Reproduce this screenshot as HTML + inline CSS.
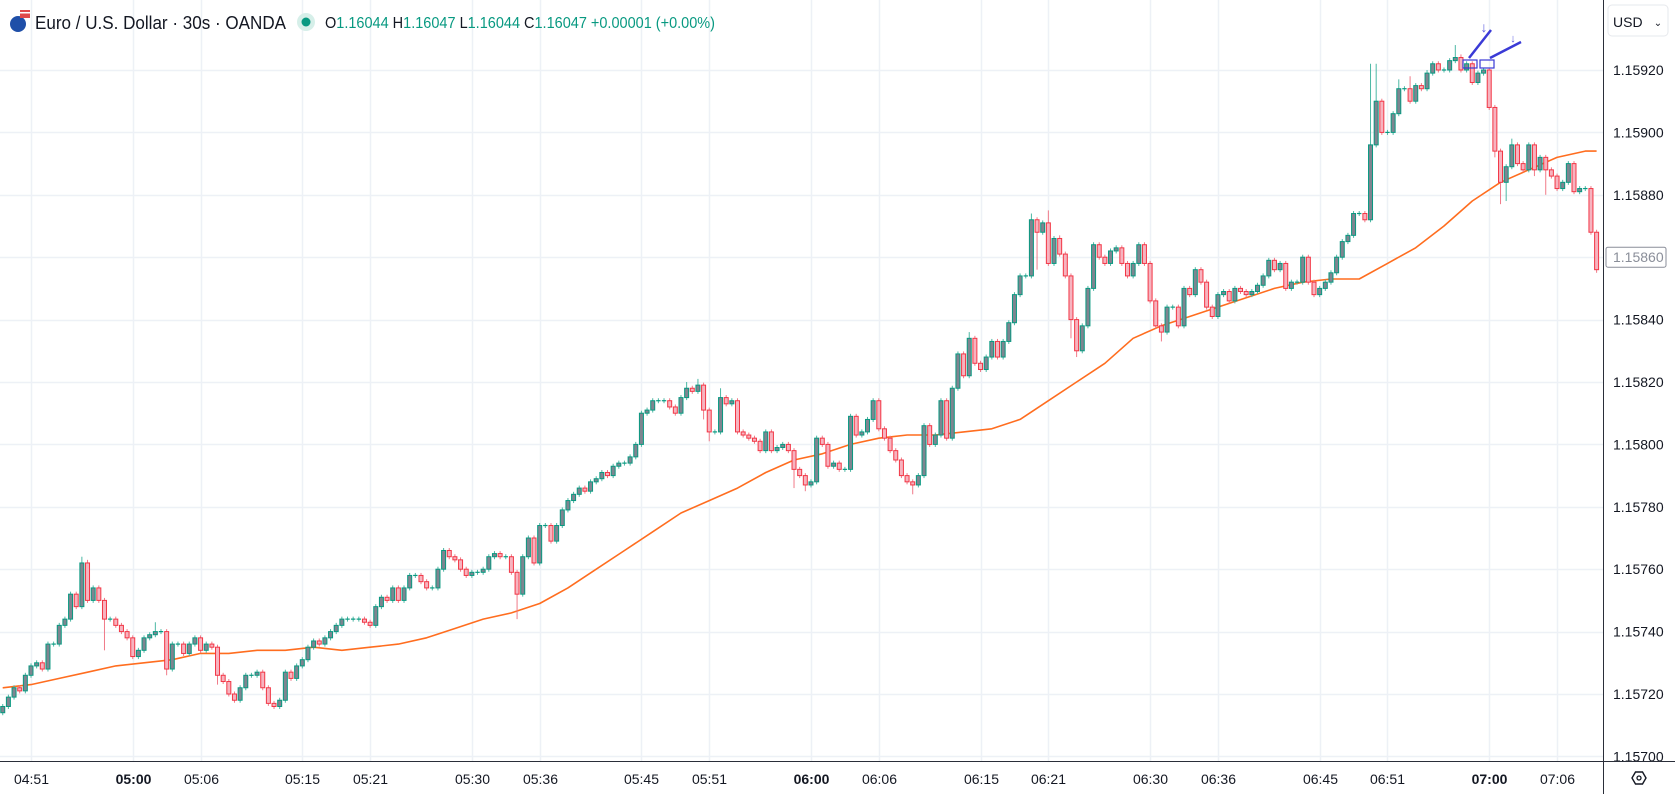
<!DOCTYPE html>
<html><head><meta charset="utf-8"><style>
html,body{margin:0;padding:0;background:#fff;}
body{width:1675px;height:794px;overflow:hidden;font-family:"Liberation Sans",sans-serif;}
svg{display:block}
</style></head><body>
<svg id="chart" width="1675" height="794" xmlns="http://www.w3.org/2000/svg">
<rect x="0" y="0" width="1675" height="794" fill="#fff"/>
<g id="grid"></g>
<g id="ma"></g>
<g id="candles"></g>
<g id="annot">
 <rect x="1463" y="60" width="14" height="8" fill="none" stroke="#3a3ad6" stroke-width="1.2"/>
 <rect x="1480" y="60" width="14" height="8" fill="none" stroke="#3a3ad6" stroke-width="1.2"/>
 <line x1="1469" y1="58" x2="1491" y2="30" stroke="#3a3ad6" stroke-width="2.5"/>
 <line x1="1490" y1="58" x2="1521" y2="42" stroke="#3a3ad6" stroke-width="2.5"/>
 <text x="1484" y="32" font-size="14" fill="#5a5ae0" text-anchor="middle">↓</text>
 <text x="1513" y="42" font-size="11" fill="#5a5ae0" text-anchor="middle">↓</text>
</g>
<g>
 <circle cx="18" cy="24" r="8" fill="#1f4fa8"/>
 <rect x="20" y="10" width="10" height="8" fill="#e04a4a"/>
 <rect x="20" y="12" width="10" height="1.5" fill="#fff"/>
 <text x="35" y="29" font-size="18" fill="#131722" textLength="251" lengthAdjust="spacingAndGlyphs">Euro / U.S. Dollar · 30s · OANDA</text>
 <circle cx="306" cy="22" r="9" fill="#d6efe9"/>
 <circle cx="306" cy="22" r="4.5" fill="#089981"/>
 <text x="325" y="28" font-size="16" fill="#089981" textLength="390" lengthAdjust="spacingAndGlyphs"><tspan fill="#131722">O</tspan>1.16044 <tspan fill="#131722">H</tspan>1.16047 <tspan fill="#131722">L</tspan>1.16044 <tspan fill="#131722">C</tspan>1.16047 +0.00001 (+0.00%)</text>
</g>
<g id="yaxis">
 <rect x="1603" y="0" width="72" height="794" fill="#fff"/>
 <line x1="1603.5" y1="0" x2="1603.5" y2="794" stroke="#2a2e39" stroke-width="1"/>
 <rect x="1608" y="5" width="60" height="31" rx="4" fill="#fff" stroke="#e6e8ec"/>
 <text x="1613" y="27" font-size="14" fill="#131722">USD</text>
 <text x="1658" y="26" font-size="10" fill="#131722" text-anchor="middle">⌄</text>
</g>
<g id="xaxis">
 <line x1="0" y1="761.5" x2="1675" y2="761.5" stroke="#2a2e39" stroke-width="1"/>
 <g>
  <polygon points="1632,778 1635.5,772 1642.5,772 1646,778 1642.5,784 1635.5,784" fill="none" stroke="#131722" stroke-width="1.4"/>
  <circle cx="1639" cy="778" r="2" fill="none" stroke="#131722" stroke-width="1.3"/>
 </g>
</g>
</svg>
<script>
// ---- data ----
const closes = [1.15716,1.15719,1.15722,1.15721,1.15726,1.15729,1.1573,1.15728,1.15736,1.15736,
1.15742,1.15744,1.15752,1.15748,1.15762,1.1575,1.15754,1.1575,1.15744,1.15744,
1.15742,1.1574,1.15738,1.15732,1.15734,1.15738,1.15739,1.1574,1.1574,1.15728,
1.15736,1.15736,1.15733,1.15736,1.15738,1.15734,1.15736,1.15735,1.15726,1.15724,
1.1572,1.15718,1.15722,1.15726,1.15726,1.15727,1.15722,1.15717,1.15716,1.15718,
1.15727,1.15725,1.15729,1.15731,1.15735,1.15737,1.15736,1.15738,1.1574,1.15742,
1.15744,1.15744,1.15744,1.15744,1.15743,1.15742,1.15748,1.15751,1.1575,1.15754,
1.1575,1.15754,1.15758,1.15758,1.15756,1.15754,1.15754,1.1576,1.15766,1.15764,
1.15763,1.1576,1.15758,1.15759,1.15759,1.1576,1.15764,1.15765,1.15764,1.15764,
1.15759,1.15752,1.15764,1.1577,1.15762,1.15774,1.15774,1.15769,1.15774,1.15779,
1.15782,1.15784,1.15786,1.15785,1.15788,1.15789,1.15791,1.1579,1.15793,1.15794,
1.15794,1.15796,1.158,1.1581,1.15811,1.15814,1.15814,1.15814,1.15812,1.1581,
1.15815,1.15818,1.15817,1.15819,1.15811,1.15804,1.15804,1.15815,1.15813,1.15814,
1.15804,1.15803,1.15802,1.15801,1.15798,1.15804,1.15798,1.15799,1.158,1.15798,
1.15792,1.1579,1.15787,1.15788,1.15802,1.158,1.15793,1.15794,1.15792,1.15792,
1.15809,1.15803,1.15804,1.15808,1.15814,1.15805,1.15802,1.15798,1.15795,1.1579,
1.15788,1.15787,1.1579,1.15806,1.158,1.15803,1.15814,1.15802,1.15818,1.15829,
1.15822,1.15834,1.15826,1.15824,1.15828,1.15833,1.15828,1.15833,1.15839,1.15848,
1.15854,1.15854,1.15872,1.15868,1.15871,1.15858,1.15866,1.15861,1.15854,1.1584,
1.1583,1.15838,1.1585,1.15864,1.1586,1.15858,1.15862,1.15863,1.15858,1.15854,
1.15858,1.15864,1.15858,1.15846,1.15838,1.15836,1.15844,1.15844,1.15838,1.1585,
1.15848,1.15856,1.15852,1.15844,1.15841,1.15848,1.15849,1.15846,1.1585,1.15849,
1.15848,1.15849,1.15851,1.15854,1.15859,1.15856,1.15858,1.1585,1.15852,1.15852,
1.1586,1.15852,1.15848,1.1585,1.15852,1.15855,1.1586,1.15865,1.15867,1.15874,
1.15874,1.15872,1.15896,1.1591,1.159,1.159,1.15906,1.15914,1.15914,1.1591,
1.15915,1.15914,1.15919,1.15922,1.1592,1.1592,1.15923,1.15924,1.1592,1.15922,
1.15916,1.15919,1.1592,1.15908,1.15894,1.15884,1.15889,1.15896,1.1589,1.15888,
1.15896,1.15888,1.15892,1.15888,1.15886,1.15882,1.15884,1.1589,1.15881,1.15882,
1.15882,1.15868,1.15856];
const firstOpen = 1.15714;
const highs = {14:1.15764,15:1.15763,27:1.15743,121:1.1582,123:1.15821,127:1.15818,171:1.15836,182:1.15874,185:1.15875,187:1.15867,242:1.15922,243:1.15922,247:1.15917,249:1.15918,252:1.1592,257:1.15928,258:1.15925,267:1.15898};
const lows = {18:1.15734,29:1.15726,38:1.15723,91:1.15744,124:1.15808,125:1.15801,140:1.15786,142:1.15785,161:1.15784,183:1.15856,189:1.15834,190:1.15828,205:1.15833,264:1.15892,265:1.15877,266:1.15878,271:1.15886,273:1.1588,282:1.15855};
const maIndex = [0,5,10,15,20,25,30,35,40,45,50,55,60,65,70,75,80,85,90,95,100,105,110,115,120,125,130,135,140,145,150,155,160,165,170,175,180,185,190,195,200,205,210,215,220,225,230,235,240,245,250,255,260,265,270,275,280,282];
const maValues = [1.15722,1.15723,1.15725,1.15727,1.15729,1.1573,1.15731,1.15733,1.15733,1.15734,1.15734,1.15735,1.15734,1.15735,1.15736,1.15738,1.15741,1.15744,1.15746,1.15749,1.15754,1.1576,1.15766,1.15772,1.15778,1.15782,1.15786,1.15791,1.15795,1.15797,1.158,1.15802,1.15803,1.15803,1.15804,1.15805,1.15808,1.15814,1.1582,1.15826,1.15834,1.15838,1.15841,1.15844,1.15847,1.1585,1.15852,1.15853,1.15853,1.15858,1.15863,1.1587,1.15878,1.15884,1.15888,1.15892,1.15894,1.15894];
const priceTicks = [1.1592,1.159,1.1588,1.1586,1.1584,1.1582,1.158,1.1578,1.1576,1.1574,1.1572,1.157];
const timeLabels = ["04:51","05:00","05:06","05:15","05:21","05:30","05:36","05:45","05:51","06:00","06:06","06:15","06:21","06:30","06:36","06:45","06:51","07:00","07:06"];
const lastPrice = 1.1586;

// ---- axes ----
const NS="http://www.w3.org/2000/svg";
const yOf = p => 70 + (1.1592 - p) * 312000;
const xOf = i => 31 + (i - 5) * 5.652;
const minutesOf = t => { const [h,m]=t.split(":").map(Number); return h*60+m; };
const xOfTime = t => xOf(5 + (minutesOf(t) - minutesOf("04:51")) * 2);
function mk(tag, attrs, parent){const e=document.createElementNS(NS,tag);for(const k in attrs)e.setAttribute(k,attrs[k]);parent.appendChild(e);return e;}

const grid=document.getElementById('grid'), yaxis=document.getElementById('yaxis'), xaxis=document.getElementById('xaxis');
priceTicks.forEach(p=>{
  const y=Math.round(yOf(p))+0.5;
  const gl=mk('line',{x1:0,x2:1603,y1:y,y2:y,stroke:'#edf1f6','stroke-width':1.5},grid);
  
  
  const t=mk('text',{x:1613,y:yOf(p)+5,'font-size':14,fill:'#131722'},yaxis);
  t.textContent=p.toFixed(5);
  
  
});
timeLabels.forEach(tl=>{
  const x=Math.round(xOfTime(tl))+0.5;
  const gl=mk('line',{x1:x,x2:x,y1:0,y2:761,stroke:'#edf1f6','stroke-width':1.5},grid);
  
  
  const bold = tl.endsWith(":00");
  const t=mk('text',{x:x,y:784,'font-size':14,fill:'#131722','text-anchor':'middle','font-weight':bold?'bold':'normal'},xaxis);
  t.textContent=tl;
  
  
});

// moving average
const ma=document.getElementById('ma');
const pts=maIndex.map((i,k)=>xOf(i).toFixed(1)+','+yOf(maValues[k]).toFixed(1)).join(' ');
const maLine=mk('polyline',{points:pts,fill:'none',stroke:'#ff6d1f','stroke-width':1.6,'stroke-linejoin':'round'},ma);



// candles
const cg=document.getElementById('candles');
closes.forEach((c,i)=>{
  const o = i===0 ? firstOpen : closes[i-1];
  const up = c >= o;
  const hi = highs[i]!==undefined ? Math.max(highs[i],o,c) : Math.max(o,c)+0.000008;
  const lo = lows[i]!==undefined ? Math.min(lows[i],o,c) : Math.min(o,c)-0.000008;
  const x=xOf(i);
  const g=mk('g',{},cg);
  
  
  const stroke = up ? '#089981' : '#f23645';
  const fill = up ? '#7e8590' : '#f7b3bf';
  mk('line',{x1:x,x2:x,y1:yOf(hi),y2:yOf(lo),stroke: up?'#4cb8a4':'#f07a88','stroke-width':1},g);
  let top=yOf(Math.max(o,c)), bot=yOf(Math.min(o,c));
  if(bot-top<1.2){ mk('line',{x1:x-2.2,x2:x+2.2,y1:top,y2:top,stroke:stroke,'stroke-width':1.2},g); }
  else mk('rect',{x:x-2,y:top,width:4,height:bot-top,fill:fill,stroke:stroke,'stroke-width':1},g);
});

// last price label
const ly=yOf(lastPrice);
const lb=mk('rect',{x:1606,y:ly-10,width:60,height:20,rx:2,fill:'#fff',stroke:'#8a8e99','stroke-width':1},yaxis);


const lt=mk('text',{x:1613,y:ly+5,'font-size':14,fill:'#8a8e99'},yaxis);
lt.textContent=lastPrice.toFixed(5);


</script>
</body></html>
